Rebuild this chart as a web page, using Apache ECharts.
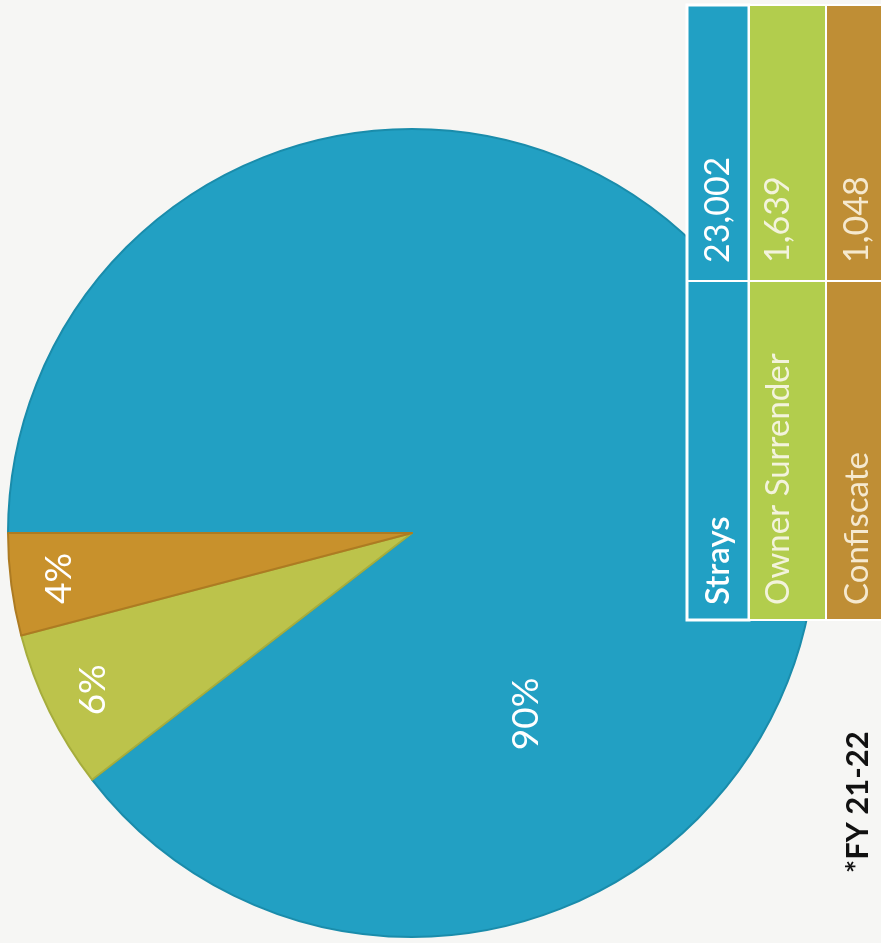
<!DOCTYPE html>
<html>
<head>
<meta charset="utf-8">
<script src="https://cdn.jsdelivr.net/npm/echarts@6/dist/echarts.min.js"></script>
<style>
  html, body { margin: 0; padding: 0; background: #f6f6f4; }
  #chart { width: 881px; height: 943px; }
</style>
</head>
<body>
<div id="chart"></div>
<script>
// Intake sources, FY 21-22
const categories = ['Strays', 'Owner Surrender', 'Confiscate'];
const counts = [23002, 1639, 1048];
const footnote = '*FY 21-22';

// slice / table colours
const sliceColors = ['#22a0c3', '#bcc34b', '#c8912c'];
const sliceEdges = ['#1a8cab', '#a6ad3c', '#ad7b22'];
const cellColors = ['#21a0c4', '#b2cd4d', '#bf8e35'];
const textColors = ['#ffffff', '#f3f3dc', '#f5e9cf'];

// pie geometry
const CX = 412, CY = 533, R = 404;
const START = 180; // slices run clockwise from 9 o'clock
// label placement: radius as a fraction of R; angle (deg) given only where it is not the slice middle
const labelPlace = [{ f: 0.53, angle: -57.7 }, { f: 0.88 }, { f: 0.88 }];

const total = counts.reduce((a, b) => a + b, 0);
function midAngle(i) {
  let before = 0;
  for (let k = 0; k < i; k++) before += counts[k];
  return START - 360 * (before + counts[i] / 2) / total;
}

const FONT = 'Lato, "Open Sans", "DejaVu Sans", sans-serif';

// table layout (drawn turned a quarter-turn, reading bottom to top)
const colX = [687, 749, 826];
const colW = [62, 77, 70];
const tableTop = 5, tableSplit = 281, tableBottom = 620;
const textX = [718, 778, 857];
const valueStartY = 263, labelStartY = 605;

const graphics = [];
categories.forEach((name, i) => {
  graphics.push({
    type: 'rect', z: 10,
    shape: { x: colX[i], y: tableTop, width: colW[i], height: tableBottom - tableTop },
    style: { fill: cellColors[i], stroke: '#ffffff', lineWidth: i === 0 ? 3 : 2 }
  });
  graphics.push({
    type: 'line', z: 11,
    shape: { x1: colX[i], y1: tableSplit, x2: colX[i] + colW[i], y2: tableSplit },
    style: { stroke: '#ffffff', lineWidth: 2 }
  });
  graphics.push({
    type: 'text', z: 12, x: textX[i], y: labelStartY, rotation: Math.PI / 2,
    style: {
      text: name, fill: textColors[i],
      font: (i === 0 ? '600 ' : 'normal ') + '33px ' + FONT,
      textAlign: 'left', textVerticalAlign: 'middle', align: 'left', verticalAlign: 'middle'
    }
  });
  graphics.push({
    type: 'text', z: 12, x: textX[i], y: valueStartY, rotation: Math.PI / 2,
    style: {
      text: counts[i].toLocaleString('en-US'), fill: textColors[i],
      font: 'normal 34px ' + FONT,
      textAlign: 'left', textVerticalAlign: 'middle', align: 'left', verticalAlign: 'middle'
    }
  });
});
graphics.push({
  type: 'text', z: 12, x: 858, y: 873, rotation: Math.PI / 2,
  style: {
    text: footnote, fill: '#111111', font: 'bold 31px ' + FONT,
    textAlign: 'left', textVerticalAlign: 'middle', align: 'left', verticalAlign: 'middle'
  }
});

const chart = echarts.init(document.getElementById('chart'), null, { renderer: 'canvas' });
chart.setOption({
  backgroundColor: '#f6f6f4',
  animation: false,
  series: [{
    type: 'pie',
    center: [CX, CY],
    radius: [0, R],
    startAngle: START,
    clockwise: true,
    avoidLabelOverlap: false,
    data: categories.map((name, i) => ({
      name, value: counts[i],
      itemStyle: { color: sliceColors[i], borderColor: sliceEdges[i], borderWidth: 2 }
    })),
    label: {
      show: true,
      position: 'inside',
      rotate: 90,
      color: '#ffffff',
      fontFamily: FONT,
      fontSize: 37,
      formatter: p => Math.round(p.percent) + '%'
    },
    labelLine: { show: false },
    labelLayout: params => {
      const i = params.dataIndex;
      const pl = labelPlace[i];
      const a = (pl.angle !== undefined ? pl.angle : midAngle(i)) * Math.PI / 180;
      return {
        x: CX + R * pl.f * Math.cos(a),
        y: CY - R * pl.f * Math.sin(a),
        align: 'center',
        verticalAlign: 'middle'
      };
    }
  }],
  graphic: graphics
});
</script>
</body>
</html>
